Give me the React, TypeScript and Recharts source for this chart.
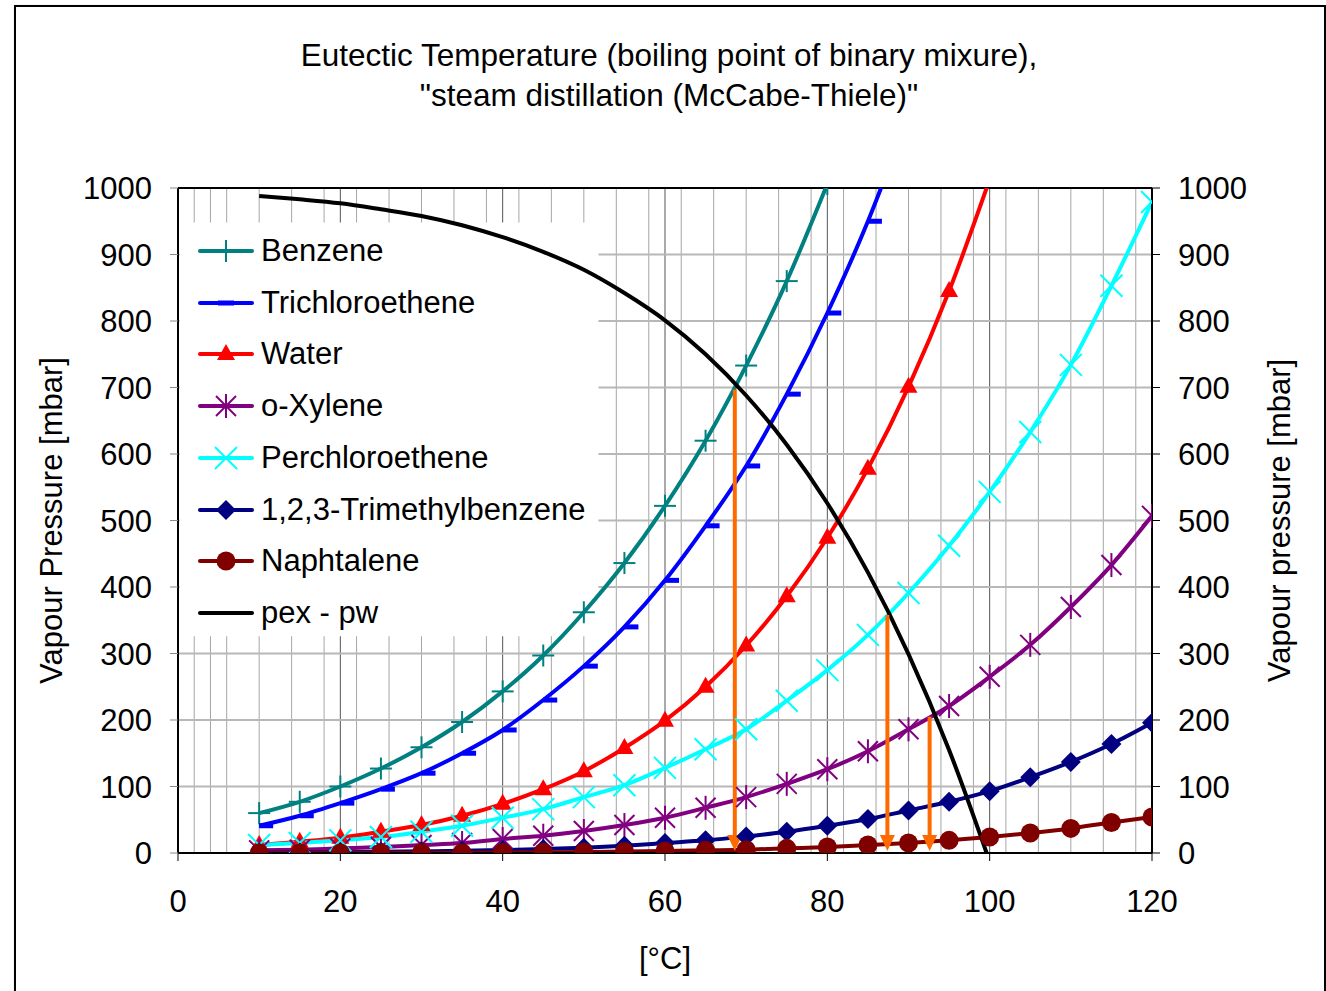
import React from 'react';
import { LineChart, Line, XAxis, YAxis, CartesianGrid, ReferenceLine, ReferenceArea, Label } from 'recharts';

const FONT = '"Liberation Sans", Arial, sans-serif';

const temps = [10, 15, 20, 25, 30, 35, 40, 45, 50, 55, 60, 65, 70, 75, 80, 85, 90, 95, 100, 105, 110, 115, 120];
const benzene = [60, 77, 100, 127, 159, 197, 243, 297, 362, 436, 522, 620, 733, 860, 1006];
const trichloroethene = [41, 56, 75, 96, 120, 150, 185, 230, 281, 340, 410, 492, 582, 690, 812, 950, 1110];
const water = [12, 17, 23, 32, 42, 56, 74, 96, 123, 158, 199, 250, 312, 386, 474, 578, 701, 845, 1013];
const oXylene = [4, 5, 7, 9, 12, 15, 21, 26, 33, 42, 53, 68, 84, 104, 126, 153, 186, 221, 265, 313, 370, 433, 507];
const perchloroethene = [12, 15, 19, 24, 32, 41, 53, 66, 84, 102, 128, 156, 186, 229, 275, 328, 391, 462, 543, 633, 734, 853, 979];
const trimethylbenzene = [0.6, 0.9, 1.3, 1.8, 2.5, 3.4, 4.5, 6, 8, 11, 15, 19, 25, 32, 41, 51, 64, 77, 93, 114, 137, 164, 196];
const naphtalene = [0.04, 0.07, 0.1, 0.2, 0.3, 0.5, 0.8, 1.1, 1.6, 2.2, 3, 4, 5, 7, 9, 12, 15, 19, 24, 30, 37, 46, 54];
const pexMinusPw = [988, 983, 977, 968, 958, 944, 926, 904, 877, 842, 801, 750, 688, 614, 526, 422, 299, 155, -13];

const xTicks = [0, 20, 40, 60, 80, 100, 120];
const yTicks = [0, 100, 200, 300, 400, 500, 600, 700, 800, 900, 1000];
const minorGridX = [2, 4, 6, 8, 10, 12, 14, 16, 18, 22, 24, 26, 28, 30, 32, 34, 36, 38, 42, 44, 46, 48, 50, 52, 54, 56, 58, 62, 64, 66, 68, 70, 72, 74, 76, 78, 82, 84, 86, 88, 90, 92, 94, 96, 98, 102, 104, 106, 108, 110, 112, 114, 116, 118];
const majorGridX = [20, 40, 60, 80, 100];

// eutectic points: temperature, pressure where arrow starts
const arrowT = [68.6, 87.4, 92.6];
const arrowP = [697, 358, 205];

// legend background area (data coordinates of the white legend box)
const legendAreaT = [0.2, 51.8];
const legendAreaP = [326, 948];

type Kind = 'plus' | 'dash' | 'triangle' | 'star' | 'x' | 'diamond' | 'circle' | 'none';

const seriesDefs: { key: string; name: string; color: string; kind: Kind; values: number[] }[] = [
  { key: 'benzene', name: 'Benzene', color: '#008080', kind: 'plus', values: benzene },
  { key: 'tce', name: 'Trichloroethene', color: '#0000ff', kind: 'dash', values: trichloroethene },
  { key: 'water', name: 'Water', color: '#ff0000', kind: 'triangle', values: water },
  { key: 'oxylene', name: 'o-Xylene', color: '#800080', kind: 'star', values: oXylene },
  { key: 'pce', name: 'Perchloroethene', color: '#00ffff', kind: 'x', values: perchloroethene },
  { key: 'tmb', name: '1,2,3-Trimethylbenzene', color: '#000080', kind: 'diamond', values: trimethylbenzene },
  { key: 'naph', name: 'Naphtalene', color: '#800000', kind: 'circle', values: naphtalene },
  { key: 'pex', name: 'pex - pw', color: '#000000', kind: 'none', values: pexMinusPw },
];

const rows = temps.map((t, i) => {
  const r: any = { t };
  seriesDefs.forEach((s) => {
    r[s.key] = i < s.values.length ? s.values[i] : undefined;
  });
  return r;
});

function marker(kind: Kind, color: string, cx: number, cy: number, key?: any, legend = false) {
  const h = 11;
  switch (kind) {
    case 'plus':
      return (
        <g key={key}>
          <line x1={cx - h} y1={cy} x2={cx + h} y2={cy} stroke={color} strokeWidth={2} />
          <line x1={cx} y1={cy - h} x2={cx} y2={cy + h} stroke={color} strokeWidth={2} />
        </g>
      );
    case 'dash':
      return (
        <g key={key}>
          <rect x={legend ? cx - 8 : cx} y={cy - 2.5} width={legend ? 16 : 14} height={5} fill={color} />
        </g>
      );
    case 'triangle':
      return (
        <g key={key}>
          <polygon points={`${cx},${cy - 10} ${cx + 9},${cy + 6} ${cx - 9},${cy + 6}`} fill={color} />
        </g>
      );
    case 'star':
      return (
        <g key={key}>
          <line x1={cx - 10} y1={cy - 10} x2={cx + 10} y2={cy + 10} stroke={color} strokeWidth={2} />
          <line x1={cx - 10} y1={cy + 10} x2={cx + 10} y2={cy - 10} stroke={color} strokeWidth={2} />
          <line x1={cx} y1={cy - 12} x2={cx} y2={cy + 12} stroke={color} strokeWidth={2} />
        </g>
      );
    case 'x':
      return (
        <g key={key}>
          <line x1={cx - h} y1={cy - h} x2={cx + h} y2={cy + h} stroke={color} strokeWidth={2} />
          <line x1={cx - h} y1={cy + h} x2={cx + h} y2={cy - h} stroke={color} strokeWidth={2} />
        </g>
      );
    case 'diamond':
      return (
        <g key={key}>
          <polygon points={`${cx},${cy - 10} ${cx + 10},${cy} ${cx},${cy + 10} ${cx - 10},${cy}`} fill={color} />
        </g>
      );
    case 'circle':
      return (
        <g key={key}>
          <circle cx={cx} cy={cy} r={9.5} fill={color} />
        </g>
      );
    default:
      return <g key={key} />;
  }
}

function makeDot(kind: Kind, color: string) {
  return (p: any) => {
    if (p.cx == null || p.cy == null || p.value == null || kind === 'none') return <g key={`d-${p.index}`} />;
    return marker(kind, color, p.cx, p.cy, `d-${p.index}`);
  };
}

const arrowShape = (p: any) => {
  const { x1, y1, x2, y2 } = p;
  const top = Math.min(y1, y2);
  const bottom = Math.max(y1, y2);
  const x = x1;
  return (
    <g>
      <line x1={x} y1={top} x2={x} y2={bottom - 14} stroke="#ff6a00" strokeWidth={4} />
      <polygon points={`${x - 7.5},${bottom - 18} ${x + 7.5},${bottom - 18} ${x},${bottom - 2}`} fill="#ff6a00" />
    </g>
  );
};

function LegendBox() {
  return (
    <div
      style={{
        position: 'absolute',
        left: 180,
        top: 223,
        width: 418,
        height: 413,
        fontFamily: FONT,
        fontSize: 31,
        color: '#000',
        pointerEvents: 'none',
      }}
    >
      {seriesDefs.map((s, i) => (
        <div
          key={s.key}
          style={{ position: 'absolute', left: 0, top: 28 + i * 51.7 - 20, height: 40, display: 'flex', alignItems: 'center' }}
        >
          <svg width={78} height={40} style={{ display: 'block' }}>
            <line x1={20} y1={20} x2={72} y2={20} stroke={s.color} strokeWidth={4} strokeLinecap="round" />
            {marker(s.kind, s.color, 46, 20, undefined, true)}
          </svg>
          <span style={{ marginLeft: 3, whiteSpace: 'nowrap', lineHeight: '40px' }}>{s.name}</span>
        </div>
      ))}
    </div>
  );
}

export default function App() {
  const tickStyle = { fontSize: 31, fill: '#000', fontFamily: FONT };
  return (
    <div style={{ position: 'absolute', left: 0, top: 0, width: 1326, height: 991, overflow: 'hidden', background: '#fff' }}>
      <div
        style={{
          position: 'absolute',
          left: 14,
          top: 5,
          width: 1308,
          height: 1000,
          border: '2px solid #000',
          boxShadow: '1px 1px 2px #888',
        }}
      />
      <div
        style={{
          position: 'absolute',
          left: 6,
          top: 35,
          width: 1326,
          textAlign: 'center',
          fontFamily: FONT,
          fontSize: 31.5,
          lineHeight: '40px',
          color: '#000',
        }}
      >
        <div>Eutectic Temperature (boiling point of binary mixure),</div>
        <div>"steam distillation (McCabe-Thiele)"</div>
      </div>
      <div style={{ position: 'absolute', left: 0, top: 0 }}>
        <LineChart width={1326} height={991} data={rows} margin={{ top: 188, right: 0, bottom: 0, left: 0 }}>
          <CartesianGrid
            yAxisId="left"
            horizontal={false}
            vertical={true}
            verticalValues={minorGridX}
            stroke="#a6a6a6"
            strokeWidth={1}
          />
          <CartesianGrid
            yAxisId="left"
            horizontal={false}
            vertical={true}
            verticalValues={majorGridX}
            stroke="#555"
            strokeWidth={1}
          />
          <CartesianGrid
            yAxisId="left"
            horizontal={true}
            vertical={false}
            horizontalValues={yTicks}
            stroke="#b8b8b8"
            strokeWidth={2}
          />
          <ReferenceArea
            yAxisId="left"
            x1={legendAreaT[0]}
            x2={legendAreaT[1]}
            y1={legendAreaP[0]}
            y2={legendAreaP[1]}
            fill="#ffffff"
            fillOpacity={1}
            stroke="none"
            ifOverflow="visible"
          />
          <XAxis
            dataKey="t"
            type="number"
            domain={[0, 120]}
            ticks={xTicks}
            height={138}
            tick={tickStyle}
            tickSize={8}
            tickMargin={29}
            axisLine={{ stroke: '#000', strokeWidth: 2 }}
            tickLine={{ stroke: '#000' }}
            allowDataOverflow
          >
            <Label
              content={(props: any) => {
                const vb = props.viewBox || { x: 178, y: 853, width: 974, height: 138 };
                return (
                  <text
                    x={vb.x + vb.width / 2}
                    y={vb.y + 105}
                    textAnchor="middle"
                    dominantBaseline="central"
                    fontSize={31}
                    fontFamily={FONT}
                    fill="#000"
                  >
                    [°C]
                  </text>
                );
              }}
            />
          </XAxis>
          <YAxis
            yAxisId="left"
            orientation="left"
            type="number"
            domain={[0, 1000]}
            ticks={yTicks}
            width={178}
            tick={tickStyle}
            tickSize={8}
            tickMargin={18}
            axisLine={{ stroke: '#000', strokeWidth: 2 }}
            tickLine={{ stroke: '#888' }}
            allowDataOverflow
          >
            <Label
              content={(props: any) => {
                const vb = props.viewBox || { x: 0, y: 188, width: 178, height: 665 };
                const cx = vb.x + 51;
                const cy = vb.y + vb.height / 2;
                return (
                  <text
                    x={cx}
                    y={cy}
                    transform={`rotate(-90 ${cx} ${cy})`}
                    textAnchor="middle"
                    dominantBaseline="central"
                    fontSize={31}
                    fontFamily={FONT}
                    fill="#000"
                  >
                    Vapour Pressure [mbar]
                  </text>
                );
              }}
            />
          </YAxis>
          <YAxis
            yAxisId="right"
            orientation="right"
            type="number"
            domain={[0, 1000]}
            ticks={yTicks}
            width={174}
            tick={tickStyle}
            tickSize={8}
            tickMargin={18}
            axisLine={{ stroke: '#000', strokeWidth: 2 }}
            tickLine={{ stroke: '#000' }}
            allowDataOverflow
          >
            <Label
              content={(props: any) => {
                const vb = props.viewBox || { x: 1152, y: 188, width: 174, height: 665 };
                const cx = vb.x + 127;
                const cy = vb.y + vb.height / 2;
                return (
                  <text
                    x={cx}
                    y={cy}
                    transform={`rotate(-90 ${cx} ${cy})`}
                    textAnchor="middle"
                    dominantBaseline="central"
                    fontSize={31}
                    fontFamily={FONT}
                    fill="#000"
                  >
                    Vapour pressure [mbar]
                  </text>
                );
              }}
            />
          </YAxis>
          <ReferenceLine yAxisId="left" y={1000} stroke="#000" strokeWidth={2} ifOverflow="visible" />
          {seriesDefs.map((s) => (
            <Line
              key={s.key}
              yAxisId="left"
              dataKey={s.key}
              name={s.name}
              type="monotone"
              stroke={s.color}
              strokeWidth={4}
              dot={makeDot(s.kind, s.color)}
              activeDot={false}
              isAnimationActive={false}
              connectNulls={false}
            />
          ))}
          {arrowT.map((t, i) => (
            <ReferenceLine
              key={`arrow-${i}`}
              yAxisId="left"
              segment={[
                { x: t, y: arrowP[i] },
                { x: t, y: 0 },
              ]}
              ifOverflow="visible"
              shape={arrowShape}
            />
          ))}
        </LineChart>
      </div>
      <LegendBox />
    </div>
  );
}
